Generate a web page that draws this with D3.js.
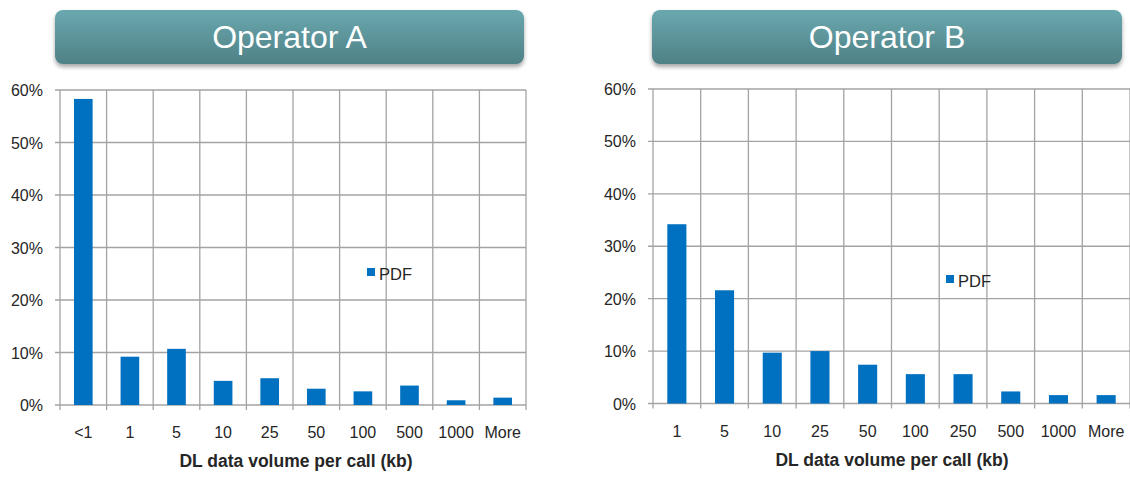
<!DOCTYPE html>
<html>
<head>
<meta charset="utf-8">
<script src="https://cdn.jsdelivr.net/npm/d3@7"></script>
<style>
  body { margin: 0; background: #fff; }
  svg { display: block; font-family: Arial, "Liberation Sans", sans-serif; }
</style>
</head>
<body>
<svg id="chart" width="1130" height="479"></svg>
<script>
// data (share of calls, %)
var categoriesA = ['<1', '1', '5', '10', '25', '50', '100', '500', '1000', 'More']
var valuesA = [58.3, 9.2, 10.7, 4.6, 5.1, 3.1, 2.6, 3.7, 0.9, 1.4]

var categoriesB = ['1', '5', '10', '25', '50', '100', '250', '500', '1000', 'More']
var valuesB = [34.2, 21.6, 9.7, 10.0, 7.4, 5.6, 5.6, 2.3, 1.6, 1.6]

var yTicks = [0, 10, 20, 30, 40, 50, 60]
var xTitle = 'DL data volume per call (kb)'
var legendLabel = 'PDF'

var svg = d3.select('#chart')
var defs = svg.append('defs')

var grad = defs.append('linearGradient')
  .attr('id', 'titleGrad')
  .attr('x1', 0).attr('y1', 0).attr('x2', 0).attr('y2', 1)
grad.append('stop').attr('offset', '0%').attr('stop-color', '#6aa8af')
grad.append('stop').attr('offset', '100%').attr('stop-color', '#4f8186')

var shadow = defs.append('filter').attr('id', 'shadow')
  .attr('x', '-5%').attr('y', '-20%').attr('width', '110%').attr('height', '160%')
shadow.append('feDropShadow')
  .attr('dx', 0).attr('dy', 3).attr('stdDeviation', 2)
  .attr('flood-color', '#000').attr('flood-opacity', 0.35)

// one panel: title box + bar chart
function drawPanel (opts) {
  var g = svg.append('g')

  g.append('rect')
    .attr('x', opts.title.x).attr('y', 10)
    .attr('width', opts.title.w).attr('height', 54)
    .attr('rx', 8)
    .attr('fill', 'url(#titleGrad)')
    .attr('filter', 'url(#shadow)')

  g.append('text')
    .attr('x', opts.title.x + opts.title.w / 2)
    .attr('y', 48)
    .attr('text-anchor', 'middle')
    .attr('font-size', '32px')
    .attr('fill', '#fff')
    .text(opts.titleText)

  var x = d3.scaleBand()
    .domain(opts.categories)
    .range([opts.left, opts.right])

  var y = d3.scaleLinear()
    .domain([0, 60])
    .range([opts.bottom, opts.top])

  // horizontal grid
  g.append('g').selectAll('line')
    .data(yTicks)
    .enter().append('line')
    .attr('x1', opts.left - 5)
    .attr('x2', opts.right)
    .attr('y1', function (d) { return y(d) })
    .attr('y2', function (d) { return y(d) })
    .attr('stroke', '#a3a3a3')
    .attr('stroke-width', 1.3)

  // vertical grid at band edges, ticks below axis
  var edges = opts.categories.map(function (c) { return x(c) }).concat([opts.right])
  g.append('g').selectAll('line')
    .data(edges)
    .enter().append('line')
    .attr('x1', function (d) { return d })
    .attr('x2', function (d) { return d })
    .attr('y1', opts.top)
    .attr('y2', opts.bottom + 5)
    .attr('stroke', '#a3a3a3')
    .attr('stroke-width', 1.3)

  // y labels
  g.append('g').selectAll('text')
    .data(yTicks)
    .enter().append('text')
    .attr('x', opts.left - 17)
    .attr('y', function (d) { return y(d) + 6 })
    .attr('text-anchor', 'end')
    .attr('font-size', '16px')
    .attr('fill', '#262626')
    .text(function (d) { return d + '%' })

  // bars
  var bw = x.bandwidth() * 0.4
  g.append('g').selectAll('rect')
    .data(opts.values)
    .enter().append('rect')
    .attr('x', function (d, i) { return x(opts.categories[i]) + x.bandwidth() / 2 - bw / 2 })
    .attr('y', function (d) { return y(d) })
    .attr('width', bw)
    .attr('height', function (d) { return y(0) - y(d) })
    .attr('fill', '#0070c0')

  // x labels
  g.append('g').selectAll('text')
    .data(opts.categories)
    .enter().append('text')
    .attr('x', function (d) { return x(d) + x.bandwidth() / 2 })
    .attr('y', opts.bottom + 33)
    .attr('text-anchor', 'middle')
    .attr('font-size', '16px')
    .attr('fill', '#262626')
    .text(function (d) { return d })

  g.append('text')
    .attr('x', opts.axisTitleX)
    .attr('y', opts.bottom + 62)
    .attr('text-anchor', 'middle')
    .attr('font-size', '17.5px')
    .attr('font-weight', 'bold')
    .attr('fill', '#262626')
    .text(xTitle)

  // legend
  g.append('rect')
    .attr('x', opts.legend[0]).attr('y', opts.legend[1])
    .attr('width', 8).attr('height', 8)
    .attr('fill', '#0070c0')
  g.append('text')
    .attr('x', opts.legend[0] + 12)
    .attr('y', opts.legend[1] + 12)
    .attr('font-size', '16.5px')
    .attr('fill', '#262626')
    .text(legendLabel)
}

drawPanel({
  titleText: 'Operator A',
  title: { x: 55, w: 469 },
  categories: categoriesA,
  values: valuesA,
  left: 60, right: 526, top: 90, bottom: 405,
  axisTitleX: 296,
  legend: [367, 268]
})

drawPanel({
  titleText: 'Operator B',
  title: { x: 652, w: 470 },
  categories: categoriesB,
  values: valuesB,
  left: 653, right: 1130, top: 89, bottom: 403.5,
  axisTitleX: 892,
  legend: [946, 275]
})
</script>
</body>
</html>
